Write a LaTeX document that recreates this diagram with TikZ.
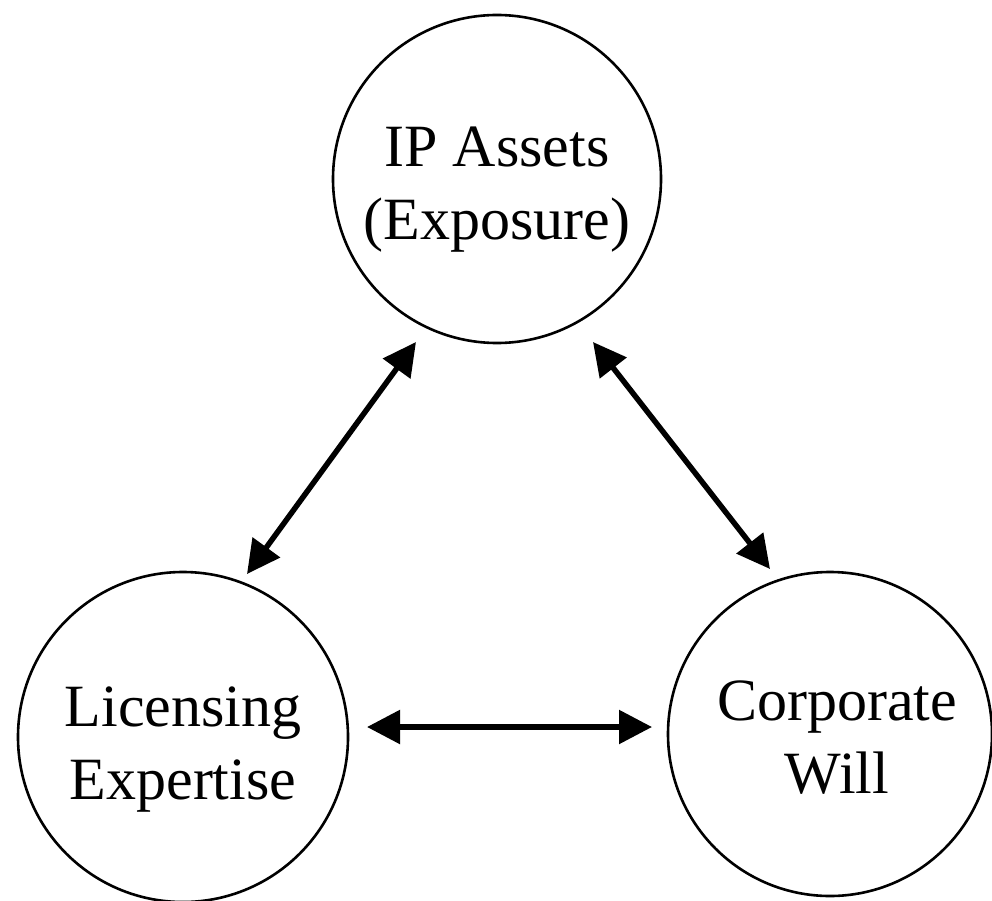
\documentclass[tikz,border=0pt]{standalone}
\usepackage{fontspec}
\setmainfont{Liberation Serif}
\usetikzlibrary{arrows.meta,calc}
\begin{document}
\begin{tikzpicture}[x=1pt,y=-1pt,
  circ/.style={circle,draw=black,line width=2.6pt,inner sep=0pt},
  lbl/.style={align=center,font=\fontsize{60}{73}\selectfont,inner sep=0pt},
  dbl/.style={{Triangle[length=33pt,width=33pt]}-{Triangle[length=33pt,width=33pt]},line width=5.5pt}]
\useasboundingbox (0,0) rectangle (992,901);
\fill[white] (0,0) rectangle (992,901);
\node[circ,minimum size=328pt] (ipc) at (497,179) {};
\node[circ,minimum size=330pt] (lec) at (183,737) {};
\node[circ,minimum size=324pt] (cwc) at (830,734) {};
\node[lbl,yshift=-11pt] (ipt) at (ipc.center) {IP Assets\\(Exposure)};
\node[lbl,yshift=-12.5pt] (let) at (lec.center) {Licensing\\Expertise};
\node[lbl,yshift=-4pt,xshift=7pt] (cwt) at (cwc.center) {Corporate\\Will};
\draw[dbl] ($(ipc.center)+(-81,163)$) -- ($(lec.center)+(64,-163)$);
\draw[dbl] ($(ipc.center)+(96,163)$) -- ($(cwc.center)+(-60,-165)$);
\draw[dbl] ($(lec.center)+(184,-10)$) -- ($(cwc.center)+(-178,-7)$);
\end{tikzpicture}
\end{document}
